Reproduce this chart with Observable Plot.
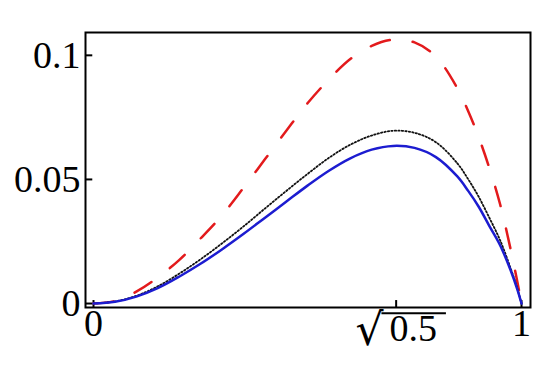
<!DOCTYPE html>
<html>
<head>
<meta charset="utf-8">
<script src="https://cdn.jsdelivr.net/npm/d3@7"></script>
<script src="https://cdn.jsdelivr.net/npm/@observablehq/plot@0.6"></script>
<style>
  html, body { margin: 0; padding: 0; background: #fff; }
  #chart svg { display: block; }
</style>
</head>
<body>
<div id="chart"></div>
<script>
// x positions where the curves were read
const xs = [0, 0.05, 0.10, 0.15, 0.20, 0.25, 0.30, 0.35, 0.40, 0.45, 0.50, 0.55, 0.60, 0.65, 0.70, 0.75, 0.80, 0.85, 0.875, 0.90, 0.925, 0.95, 0.975, 0.99, 1.00];
// red dashed curve
const redY = [0, 0.0010, 0.0048, 0.0105, 0.0175, 0.0262, 0.0355, 0.0465, 0.0580, 0.0695, 0.0807, 0.0903, 0.0985, 0.1038, 0.1063, 0.1052, 0.0995, 0.0868, 0.0777, 0.0670, 0.0545, 0.0400, 0.0215, 0.0090, 0];
// black dotted curve
const blackY = [0, 0.0008, 0.0031, 0.0069, 0.0120, 0.0178, 0.0242, 0.0310, 0.0382, 0.0453, 0.0522, 0.0587, 0.0640, 0.0677, 0.0696, 0.0688, 0.0650, 0.0565, 0.0502, 0.0430, 0.0345, 0.0255, 0.0140, 0.0062, 0];
// blue solid curve
const blueY = [0, 0.0007, 0.0028, 0.0062, 0.0108, 0.0160, 0.0218, 0.0280, 0.0345, 0.0410, 0.0475, 0.0535, 0.0585, 0.0620, 0.0635, 0.0627, 0.0590, 0.0512, 0.0455, 0.0390, 0.0312, 0.0235, 0.0132, 0.0058, 0];

const xTicks = [0, Math.SQRT1_2, 1];
const xTickLabels = ["0", "√0.5", "1"];
const yTicks = [0, 0.05, 0.1];
const yTickLabels = ["0", "0.05", "0.1"];

const xDomain = [-0.0187, 1.021];
const yDomain = [-0.0016, 0.1092];

const toRows = (ys) => xs.map((x, i) => ({x, y: ys[i]}));
const red = toRows(redY), black = toRows(blackY), blue = toRows(blueY);

const font = "'Liberation Serif', 'Times New Roman', serif";
const fs = 38;

const chart = Plot.plot({
  width: 550,
  height: 371,
  marginLeft: 85,
  marginRight: 20,
  marginTop: 32,
  marginBottom: 64,
  style: {fontFamily: font, fontSize: fs + "px", color: "black", background: "white"},
  x: {domain: xDomain},
  y: {domain: yDomain},
  marks: [
    Plot.axisX(xTicks, {label: null, tickSize: 0, tickPadding: 2, tickFormat: (d, i) => xTickLabels[i], fontSize: fs, fontFamily: font}),
    Plot.axisY(yTicks, {label: null, tickSize: 0, tickPadding: 5, tickFormat: (d, i) => yTickLabels[i], fontSize: fs, fontFamily: font}),
    // inward ticks
    Plot.ruleY(yTicks, {y: d => d, x1: xDomain[0], x2: xDomain[0] + 0.017, stroke: "black", strokeWidth: 2}),
    Plot.ruleX(xTicks, {x: d => d, y1: yDomain[0], y2: yDomain[0] + 0.0028, stroke: "black", strokeWidth: 2}),
    Plot.line(red, {x: "x", y: "y", stroke: "#e31a1c", strokeWidth: 2.5, strokeDasharray: "20,23", curve: "catmull-rom"}),
    Plot.line(black, {x: "x", y: "y", stroke: "#111", strokeWidth: 1.8, strokeDasharray: "1.4,2.1", curve: "catmull-rom"}),
    Plot.line(blue, {x: "x", y: "y", stroke: "#1c1cd0", strokeWidth: 2.5, curve: "catmull-rom"}),
    Plot.frame({stroke: "black", strokeWidth: 2})
  ]
});
document.getElementById("chart").appendChild(chart);

// render the radical label with a taller sign and an overline over "0.5"
const NS = "http://www.w3.org/2000/svg";
chart.querySelectorAll("text").forEach(t => {
  if (t.textContent === "√0.5") {
    t.textContent = "";
    const s1 = document.createElementNS(NS, "tspan");
    s1.textContent = "√";
    s1.setAttribute("font-family", "'DejaVu Serif', serif");
    s1.setAttribute("font-size", 44);
    s1.setAttribute("dy", "0.2em");
    const s2 = document.createElementNS(NS, "tspan");
    s2.textContent = "0.5";
    s2.setAttribute("dx", "6");
    s2.setAttribute("dy", "-4");
    t.appendChild(s1);
    t.appendChild(s2);
    const end0 = t.getEndPositionOfChar(0);
    const start1 = t.getStartPositionOfChar(1);
    const end3 = t.getEndPositionOfChar(3);
    const yLine = start1.y - 0.74 * fs;
    const line = document.createElementNS(NS, "line");
    line.setAttribute("x1", end0.x - 2);
    line.setAttribute("x2", end3.x + 9);
    line.setAttribute("y1", yLine);
    line.setAttribute("y2", yLine);
    line.setAttribute("stroke", "black");
    line.setAttribute("stroke-width", 2);
    const tr = t.getAttribute("transform");
    if (tr) line.setAttribute("transform", tr);
    t.parentNode.appendChild(line);
  }
});
</script>
</body>
</html>
